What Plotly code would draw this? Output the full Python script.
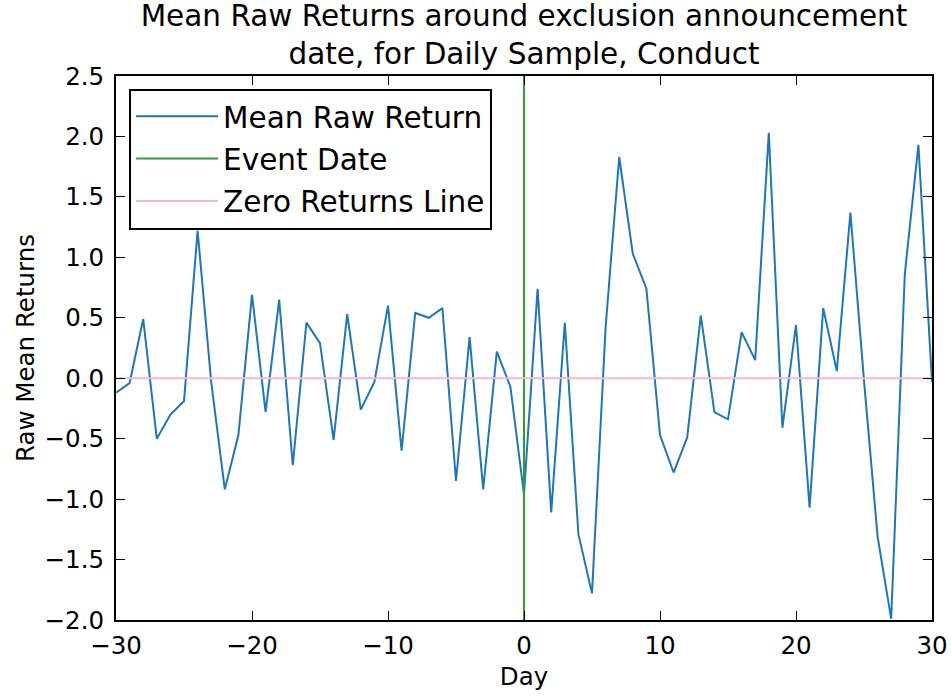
import plotly.graph_objects as go

days = list(range(-30, 31))
mean_raw_returns = [
    -0.12, -0.04, 0.49, -0.50, -0.30, -0.19, 1.22, -0.03, -0.92, -0.47,
    0.69, -0.28, 0.65, -0.72, 0.46, 0.29, -0.51, 0.53, -0.26, -0.03,
    0.60, -0.60, 0.54, 0.50, 0.58, -0.85, 0.34, -0.92, 0.22, -0.07,
    -0.96,
    0.74, -1.11, 0.46, -1.29, -1.78, 0.42, 1.83, 1.03, 0.74, -0.47,
    -0.78, -0.49, 0.52, -0.28, -0.34, 0.38, 0.15, 2.03, -0.41, 0.44,
    -1.07, 0.58, 0.06, 1.37, -0.02, -1.31, -1.99, 0.86, 1.93, -0.03,
]
event_day = 0
y_range = [-2.0, 2.5]
x_range = [-30, 30]

FONT = "DejaVu Sans"
TICK_SIZE = 24.5
BIG_SIZE = 29.5

fig = go.Figure()
fig.add_trace(go.Scatter(
    x=days, y=mean_raw_returns, mode="lines", name="Mean Raw Return",
    line=dict(color="#1f77b4", width=2), legendgroup="a",
))
fig.add_trace(go.Scatter(
    x=[event_day, event_day], y=y_range, mode="lines", name="Event Date",
    line=dict(color="#2ca02c", width=2), legendgroup="b",
))
fig.add_trace(go.Scatter(
    x=x_range, y=[0, 0], mode="lines", name="Zero Returns Line",
    line=dict(color="#f7b6d2", width=2), legendgroup="c",
))

axis_common = dict(
    showline=True, linecolor="black", linewidth=2, mirror="ticks",
    ticks="inside", ticklen=9, tickwidth=1.3, tickcolor="black",
    showgrid=False, zeroline=False, automargin=False,
    tickfont=dict(family=FONT, size=TICK_SIZE, color="black"),
)

fig.update_layout(
    width=951, height=696,
    margin=dict(l=116, r=19, t=76, b=76),
    paper_bgcolor="white", plot_bgcolor="white",
    font=dict(family=FONT, color="black"),
    title=dict(
        text="Mean Raw Returns around exclusion announcement<br>date, for Daily Sample, Conduct",
        x=0.551, xanchor="center", y=0.963, yanchor="top",
        font=dict(family=FONT, size=BIG_SIZE, color="black"),
    ),
    xaxis=dict(
        range=x_range, dtick=10, tick0=0, ticklabelstandoff=3,
        title=dict(text="Day", font=dict(family=FONT, size=TICK_SIZE, color="black"), standoff=8),
        **axis_common,
    ),
    yaxis=dict(
        range=y_range, dtick=0.5, tick0=0, tickformat=".1f", ticklabelstandoff=5,
        title=dict(text="Raw Mean Returns", font=dict(family=FONT, size=TICK_SIZE, color="black"), standoff=3),
        **axis_common,
    ),
    legend=dict(
        x=0.016, y=0.977, xanchor="left", yanchor="top",
        bordercolor="black", borderwidth=2, bgcolor="white",
        font=dict(family=FONT, size=BIG_SIZE, color="black"),
        tracegroupgap=1, traceorder="grouped", itemwidth=82,
    ),
    showlegend=True,
)

fig.write_html(
    "out.html",
    config={"displayModeBar": False},
    post_script="document.body.style.margin='0';document.body.style.overflow='hidden';",
)
